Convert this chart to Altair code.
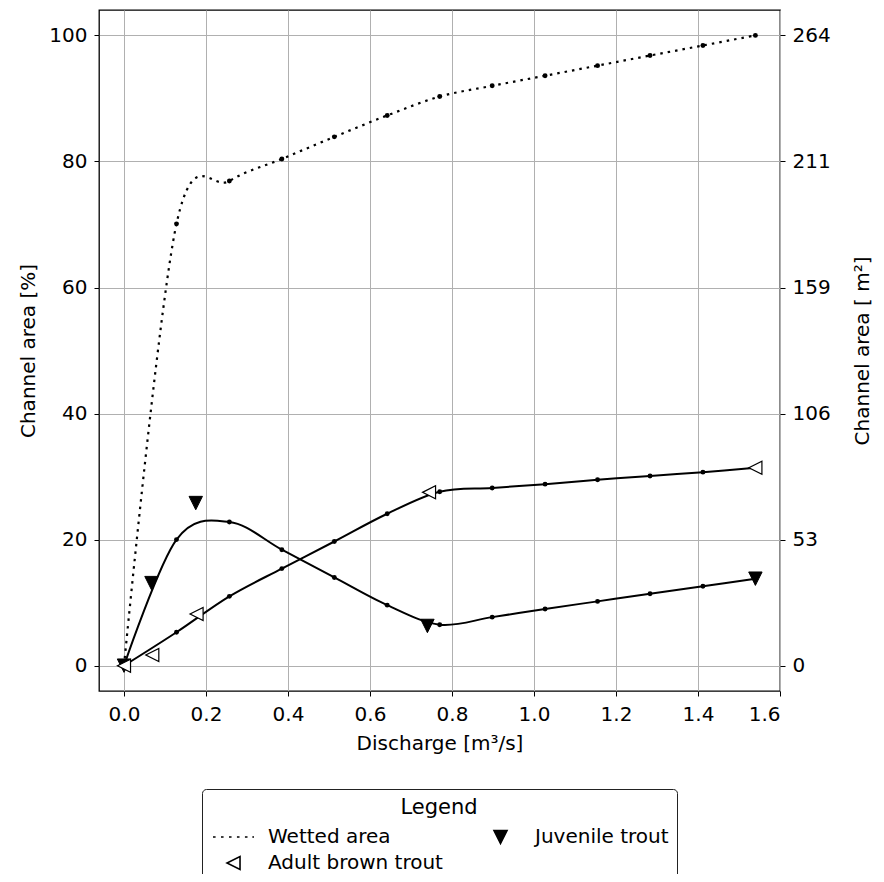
import altair as alt
import pandas as pd

# ---- data ----
discharge = [0.0, 0.128, 0.257, 0.385, 0.513, 0.642, 0.770, 0.898, 1.027, 1.155, 1.283, 1.412, 1.540]
wetted = [0.0, 70.1, 76.9, 80.4, 83.9, 87.3, 90.3, 92.0, 93.6, 95.2, 96.8, 98.4, 100.0]
juvenile = [0.0, 20.0, 22.8, 18.4, 14.0, 9.6, 6.5, 7.7, 9.0, 10.2, 11.4, 12.6, 13.8]
adult = [0.0, 5.3, 11.0, 15.4, 19.7, 24.1, 27.6, 28.2, 28.8, 29.5, 30.1, 30.7, 31.4]

juv_mark_q = [0.0, 0.067, 0.175, 0.740, 1.540]
juv_mark_pct = [0.0, 13.1, 25.8, 6.3, 13.8]
adult_mark_q = [0.0, 0.069, 0.177, 0.744, 1.540]
adult_mark_pct = [0.0, 1.7, 8.2, 27.5, 31.4]

# legend order (filled column by column, as in the reference)
series = ["Wetted area", "Adult brown trout", "Juvenile trout"]
x_ticks = [0.0, 0.2, 0.4, 0.6, 0.8, 1.0, 1.2, 1.4, 1.6]
y_ticks = [0, 20, 40, 60, 80, 100]
total_area_m2 = 264.3

FONT = "DejaVu Sans"

curves = pd.DataFrame({
    "q": discharge,
    "Wetted area": wetted,
    "Juvenile trout": juvenile,
    "Adult brown trout": adult,
}).melt("q", var_name="series", value_name="pct")

juv_marks = pd.DataFrame({"q": juv_mark_q, "pct": juv_mark_pct})
adult_marks = pd.DataFrame({"q": adult_mark_q, "pct": adult_mark_pct})
legend_df = pd.DataFrame({"series": series, "q": [0.0] * 3, "pct": [0.0] * 3})

x_scale = alt.Scale(domain=[-0.061, 1.6], nice=False, zero=False)
y_scale = alt.Scale(domain=[-4.02, 104.03], nice=False, zero=False)

X = alt.X("q:Q", scale=x_scale,
          axis=alt.Axis(values=x_ticks, format=".1f", title="Discharge [m³/s]",
                        labelPadding=8, titlePadding=9, grid=True))
Y = alt.Y("pct:Q", scale=y_scale,
          axis=alt.Axis(values=y_ticks, title="Channel area [%]", labelPadding=7,
                        titlePadding=10, grid=True))

tri_down = "M-1,-1L1,-1L0,1Z"
tri_left = "M1,-1L1,1L-1,0Z"

wet_line = alt.Chart(curves).transform_filter(
    alt.datum.series == "Wetted area"
).mark_line(interpolate="cardinal", strokeDash=[2.5, 5], strokeWidth=2.2,
            color="black").encode(x=X, y=Y)

fish_lines = alt.Chart(curves).transform_filter(
    alt.datum.series != "Wetted area"
).mark_line(interpolate="cardinal", strokeWidth=2, color="black").encode(
    x=X, y=Y, detail="series:N")

dots = alt.Chart(curves).mark_circle(size=24, color="black", opacity=1).encode(x=X, y=Y)

juv_pts = alt.Chart(juv_marks).mark_point(
    shape=tri_down, size=180, filled=True, fill="black", stroke="black",
    strokeWidth=1, opacity=1).encode(x=X, y=Y)

adult_pts = alt.Chart(adult_marks).mark_point(
    shape=tri_left, size=170, filled=True, fill="white", stroke="black",
    strokeWidth=1.2, opacity=1).encode(x=X, y=Y)

# legend symbols: unit = 7 px (symbolSize 196); handle spans u=-1..4.86
dotted_sym = ("M-1,0L-0.63,0M0.14,0L0.51,0M1.28,0L1.65,0"
              "M2.42,0L2.79,0M3.56,0L3.93,0M4.62,0L4.86,0")
leg_tri_down = "M1.0,-0.93L2.86,-0.93L1.93,0.93Z"
leg_tri_left = "M2.86,-0.93L2.86,0.93L1.0,0Z"

LEG = alt.Legend(
    title="Legend", orient="none", legendX=103, legendY=779, columns=2,
    columnPadding=34, rowPadding=6, padding=8, strokeColor="#222222",
    cornerRadius=4, fillColor="white", titleAnchor="middle", titleAlign="center",
    titleFontSize=21, titleFontWeight="normal", titleFont=FONT, titleColor="black",
    titlePadding=9, labelFontSize=20, labelFont=FONT, labelColor="black",
    labelOffset=38, symbolSize=196, symbolStrokeColor="black",
    symbolStrokeWidth=1.6, labelLimit=400)

legend_layer = alt.Chart(legend_df).transform_filter("false").mark_point(
    filled=True, opacity=1, strokeWidth=1.6).encode(
    x=X, y=Y,
    shape=alt.Shape("series:N", scale=alt.Scale(domain=series,
                    range=[dotted_sym, leg_tri_left, leg_tri_down]), legend=LEG),
    fill=alt.Fill("series:N", scale=alt.Scale(domain=series,
                  range=["black", "white", "black"]), legend=LEG),
    stroke=alt.Stroke("series:N", scale=alt.Scale(domain=series,
                      range=["black", "black", "black"]), legend=LEG),
)

main = alt.layer(wet_line, fish_lines, dots, juv_pts, adult_pts, legend_layer)

right_axis = alt.Chart(curves).mark_point(opacity=0).encode(
    x=X,
    y=alt.Y("pct:Q", scale=y_scale,
            axis=alt.Axis(orient="right", values=y_ticks, grid=False,
                          labelExpr=f"format(round(datum.value*{total_area_m2}/100), 'd')",
                          title="Channel area [ m²]", titleAngle=270,
                          titleBaseline="top", labelPadding=7, titlePadding=22)))

chart = alt.layer(main, right_axis).resolve_scale(y="independent").properties(
    width=681, height=681,
    autosize=alt.AutoSizeParams(type="none"),
    padding={"left": 91, "top": 2, "right": 96, "bottom": 183},
).configure_axis(
    labelFont=FONT, titleFont=FONT, labelFontSize=20, titleFontSize=20,
    labelColor="black", titleColor="black", titleFontWeight="normal",
    tickColor="black", tickSize=5, tickWidth=1, domain=False,
    gridColor="#b0b0b0", gridWidth=1,
).configure_view(stroke="black", strokeWidth=1.3)

chart.save("out.html", embed_options={"renderer": "svg", "actions": False})
